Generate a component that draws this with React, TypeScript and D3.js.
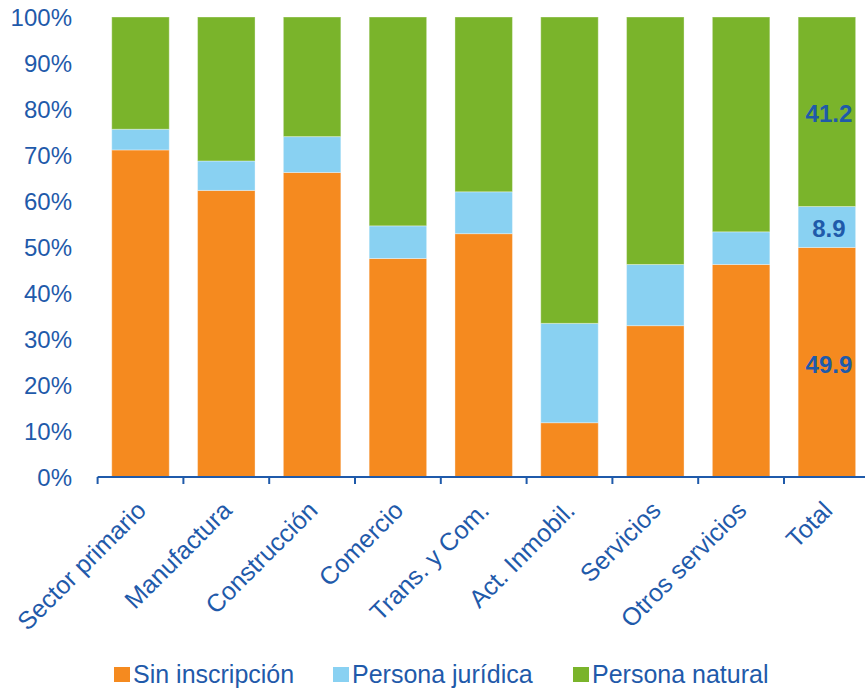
import React, { useRef, useEffect } from "react";
import { select, scaleBand, scaleLinear, stack, range } from "d3";

const categories = [
  "Sector primario",
  "Manufactura",
  "Construcción",
  "Comercio",
  "Trans. y Com.",
  "Act. Inmobil.",
  "Servicios",
  "Otros servicios",
  "Total",
];
const sinInscripcion = [71.1, 62.3, 66.2, 47.5, 52.9, 11.8, 32.9, 46.2, 49.9];
const personaJuridica = [4.5, 6.4, 7.8, 7.1, 9.1, 21.6, 13.3, 7.1, 8.9];
const personaNatural = [24.4, 31.3, 26.0, 45.4, 38.0, 66.6, 53.8, 46.7, 41.2];
const seriesNames = ["Sin inscripción", "Persona jurídica", "Persona natural"];
const yTicks = [0, 10, 20, 30, 40, 50, 60, 70, 80, 90, 100];
const labelledCategory = "Total";

const colors = ["#F58A1F", "#89D1F2", "#7AB42B"];
const textColor = "#1F5AAA";
const font = "Arial, 'Liberation Sans', sans-serif";

function App() {
  const svgRef = useRef<SVGSVGElement>(null);

  useEffect(() => {
    const svg = select(svgRef.current);
    svg.selectAll("*").remove();

    const table = categories.map((c, i) => ({
      category: c,
      s0: sinInscripcion[i],
      s1: personaJuridica[i],
      s2: personaNatural[i],
    }));
    const keys = ["s0", "s1", "s2"];
    const stacked = stack<any>().keys(keys)(table);

    const x = scaleBand().domain(categories).range([97.6, 869.8]).paddingInner(0.33).paddingOuter(0.165);
    const y = scaleLinear().domain([0, 100]).range([477, 17]);

    // bars
    svg
      .append("g")
      .selectAll("g")
      .data(stacked)
      .join("g")
      .attr("fill", (d, i) => colors[i])
      .selectAll("rect")
      .data((d) => d)
      .join("rect")
      .attr("x", (d: any) => x(d.data.category)!)
      .attr("y", (d) => y(d[1]))
      .attr("width", x.bandwidth())
      .attr("height", (d) => y(d[0]) - y(d[1]))
      .attr("stroke", "#ffffff")
      .attr("stroke-opacity", 0.35)
      .attr("stroke-width", 1);

    // y tick labels
    svg
      .append("g")
      .selectAll("text")
      .data(yTicks)
      .join("text")
      .attr("x", 72)
      .attr("y", (d) => y(d) + 1)
      .attr("dy", "0.35em")
      .attr("text-anchor", "end")
      .attr("fill", textColor)
      .style("font", `24px ${font}`)
      .text((d) => d + "%");

    // x axis
    const step = x.step();
    const x0 = x.range()[0];
    const axis = svg.append("g").attr("stroke", textColor).attr("stroke-width", 2);
    axis.append("line").attr("x1", x0).attr("x2", x.range()[1]).attr("y1", 477).attr("y2", 477);
    axis
      .selectAll(".tick")
      .data(range(categories.length + 1))
      .join("line")
      .attr("class", "tick")
      .attr("x1", (i) => x0 + i * step)
      .attr("x2", (i) => x0 + i * step)
      .attr("y1", 477)
      .attr("y2", 484);

    // category labels
    svg
      .append("g")
      .selectAll("text")
      .data(categories)
      .join("text")
      .attr("transform", (d) => `translate(${x(d)! + x.bandwidth() / 2 + 7},${512}) rotate(-45)`)
      .attr("text-anchor", "end")
      .attr("fill", textColor)
      .style("font", `25px ${font}`)
      .text((d) => d);

    // value labels on Total
    const ti = categories.indexOf(labelledCategory);
    svg
      .append("g")
      .selectAll("text")
      .data(stacked.map((s) => s[ti]))
      .join("text")
      .attr("x", x(labelledCategory)! + x.bandwidth() / 2 + 2)
      .attr("y", (d) => (y(d[0]) + y(d[1])) / 2 + 2)
      .attr("dy", "0.35em")
      .attr("text-anchor", "middle")
      .attr("fill", textColor)
      .style("font", `bold 24px ${font}`)
      .text((d) => (d[1] - d[0]).toFixed(1));

    // legend
    const legendX = [114, 333, 573];
    const legend = svg
      .append("g")
      .selectAll("g")
      .data(seriesNames)
      .join("g")
      .attr("transform", (d, i) => `translate(${legendX[i]},667)`);
    legend
      .append("rect")
      .attr("width", 16)
      .attr("height", 15)
      .attr("fill", (d, i) => colors[i]);
    legend
      .append("text")
      .attr("x", 19)
      .attr("y", 16)
      .attr("fill", textColor)
      .style("font", `25px ${font}`)
      .text((d) => d);
  }, []);

  return (
    <svg
      ref={svgRef}
      width={865}
      height={690}
      style={{ position: "absolute", left: 0, top: 0, background: "#fff" }}
    />
  );
}

export default App;
